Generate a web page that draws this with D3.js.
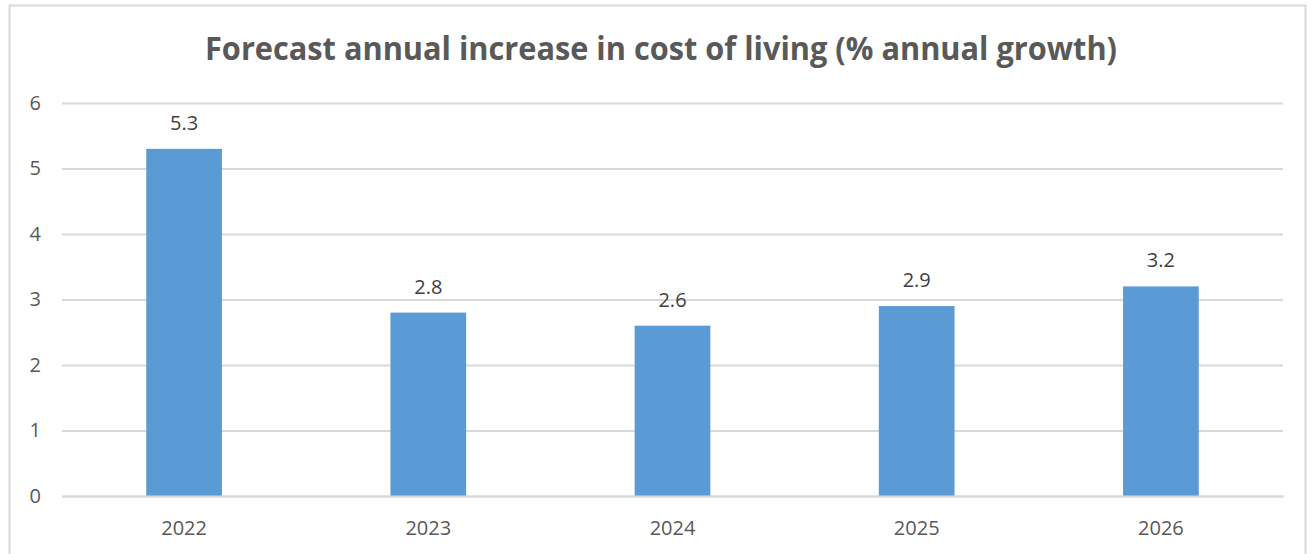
<!DOCTYPE html>
<html>
<head>
    <meta charset="utf-8">
    <title>Forecast cost of living</title>
    <script src="https://cdn.jsdelivr.net/npm/d3@7"></script>
    <style>
        html, body { margin: 0; padding: 0; background: #fff; overflow: hidden; }
        svg { display: block; }
    </style>
</head>
<body>
    <svg width="1314" height="554" id="mainsvg"></svg>
    <script>
        // data
        const years = ['2022', '2023', '2024', '2025', '2026'];
        const growth = [5.3, 2.8, 2.6, 2.9, 3.2];
        const yTicks = [0, 1, 2, 3, 4, 5, 6];
        const title = 'Forecast annual increase in cost of living (% annual growth)';

        const svg = d3.select('#mainsvg');
        const width = +svg.attr('width');
        const height = +svg.attr('height');

        // chart frame (bottom edge lies below the picture)
        svg.append('path')
            .attr('d', `M9.5,${height} V5.5 H1305.5 V${height}`)
            .attr('fill', 'none')
            .attr('stroke', '#d9d9d9')
            .attr('stroke-width', 2);

        const margin = { top: 103, right: 31, left: 62 };
        const innerWidth = width - margin.left - margin.right;
        const innerHeight = 496 - margin.top;

        const g = svg.append('g')
            .attr('transform', `translate(${margin.left}, ${margin.top})`);

        const xScale = d3.scaleBand()
            .domain(years)
            .range([0, innerWidth])
            .paddingInner(0.69)
            .paddingOuter(0.345);

        const yScale = d3.scaleLinear()
            .domain([0, 6])
            .range([innerHeight, 0]);

        const font = 'Open Sans, sans-serif';

        // gridlines + y labels
        const yAxis = d3.axisLeft(yScale)
            .tickValues(yTicks)
            .tickFormat(d3.format('d'))
            .tickSize(-innerWidth)
            .tickPadding(21);
        const yg = g.append('g').call(yAxis);
        yg.select('.domain').remove();
        yg.selectAll('.tick line').attr('stroke', '#d9d9d9').attr('stroke-width', 2);
        yg.selectAll('.tick text')
            .attr('fill', '#595959')
            .attr('font-family', font)
            .attr('font-size', '20px');

        // bars
        g.selectAll('.bar')
            .data(years)
            .join('rect')
            .attr('class', 'bar')
            .attr('x', d => xScale(d))
            .attr('width', xScale.bandwidth())
            .attr('y', (d, i) => yScale(growth[i]))
            .attr('height', (d, i) => innerHeight - yScale(growth[i]))
            .attr('fill', '#5b9bd5');

        // data labels
        g.selectAll('.lbl')
            .data(years)
            .join('text')
            .attr('class', 'lbl')
            .attr('x', d => xScale(d) + xScale.bandwidth() / 2)
            .attr('y', (d, i) => yScale(growth[i]) - 19)
            .attr('text-anchor', 'middle')
            .attr('fill', '#404040')
            .attr('font-family', font)
            .attr('font-size', '20px')
            .text((d, i) => growth[i].toFixed(1));

        // x axis
        const xAxis = d3.axisBottom(xScale).tickSize(0).tickPadding(25);
        const xg = g.append('g')
            .attr('transform', `translate(0, ${innerHeight})`)
            .call(xAxis);
        xg.select('.domain').attr('stroke', '#d9d9d9').attr('stroke-width', 2);
        xg.selectAll('.tick text')
            .attr('fill', '#595959')
            .attr('font-family', font)
            .attr('font-size', '20px');

        // title
        svg.append('text')
            .attr('x', 661)
            .attr('y', 60)
            .attr('text-anchor', 'middle')
            .attr('fill', '#595959')
            .attr('font-family', font)
            .attr('font-weight', 'bold')
            .attr('font-size', '32px')
            .attr('textLength', 912)
            .attr('lengthAdjust', 'spacingAndGlyphs')
            .text(title);
    </script>
</body>
</html>
